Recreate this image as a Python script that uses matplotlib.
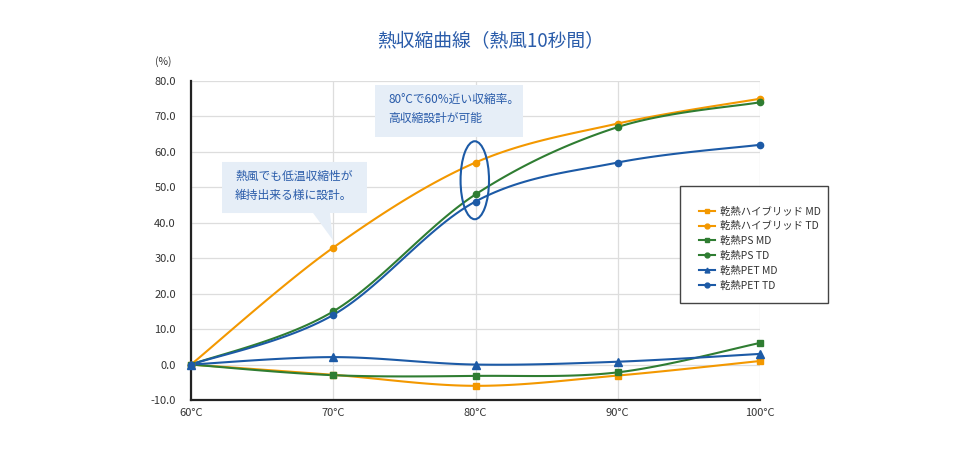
import numpy as np
import matplotlib
matplotlib.use("Agg")
import matplotlib.pyplot as plt
from matplotlib.patches import Polygon, Ellipse, Rectangle
from matplotlib.lines import Line2D

plt.rcParams['font.family'] = ['Noto Sans CJK JP', 'DejaVu Sans']

TITLE = "熱収縮曲線（熱風10秒間）"
temps = [60, 70, 80, 90, 100]
temp_labels = ["60°C", "70°C", "80°C", "90°C", "100°C"]

hybrid_md = [0, -2.9, -6.0, -3.1, 1.0]
hybrid_td = [0, 33.0, 57.0, 68.0, 75.0]
ps_md = [0, -3.0, -3.2, -2.2, 6.1]
ps_td = [0, 15.0, 48.0, 67.0, 74.0]
pet_md = [0, 2.1, 0.0, 0.8, 3.0]
pet_td = [0, 14.0, 46.0, 57.0, 62.0]

ORANGE = "#f39800"
GREEN = "#2f7d32"
BLUE = "#1c5aa6"
TEXT_BLUE = "#2a5caa"
BOX_BG = "#e6eef7"

series = [
    ("乾熱ハイブリッド MD", hybrid_md, ORANGE, "s", 4.5),
    ("乾熱ハイブリッド TD", hybrid_td, ORANGE, "o", 4.5),
    ("乾熱PS MD", ps_md, GREEN, "s", 4.5),
    ("乾熱PS TD", ps_td, GREEN, "o", 4.5),
    ("乾熱PET MD", pet_md, BLUE, "^", 5.5),
    ("乾熱PET TD", pet_td, BLUE, "o", 4.5),
]


def smooth(xs, ys, n=30):
    """ Excel-like smoothed line: cubic Bezier through every point. """
    p = np.column_stack([xs, ys]).astype(float)
    ext = np.vstack([p[0], p, p[-1]])
    out = []
    t = np.linspace(0, 1, n)[:, None]
    for i in range(len(p) - 1):
        p0, p1 = ext[i + 1], ext[i + 2]
        c1 = p0 + (ext[i + 2] - ext[i]) / 6
        c2 = p1 - (ext[i + 3] - ext[i + 1]) / 6
        seg = ((1 - t) ** 3) * p0 + 3 * ((1 - t) ** 2) * t * c1 \
            + 3 * (1 - t) * t ** 2 * c2 + t ** 3 * p1
        out.append(seg if i == 0 else seg[1:])
    s = np.vstack(out)
    return s[:, 0], s[:, 1]


fig = plt.figure(figsize=(9.8, 4.5), dpi=100)
ax = fig.add_axes([191 / 980, 50 / 450, 569 / 980, 319 / 450])
ax.set_xlim(60, 100)
ax.set_ylim(-10, 80)

for name, vals, color, marker, ms in series:
    sx, sy = smooth(temps, vals)
    ax.plot(sx, sy, color=color, lw=1.5, clip_on=False, zorder=3)
    ax.plot(temps, vals, ls="none", marker=marker, ms=ms, color=color,
            clip_on=False, zorder=4)

ax.set_xticks(temps)
ax.set_xticklabels(temp_labels)
ax.set_yticks(np.arange(-10, 81, 10))
ax.set_yticklabels(["%.1f" % v for v in np.arange(-10, 81, 10)])
ax.tick_params(length=0, labelsize=8, colors="#333333")
ax.tick_params(axis="x", pad=6)
ax.tick_params(axis="y", pad=11)
ax.grid(True, color="#dddddd", lw=0.9)
ax.set_axisbelow(True)
for side in ["top", "right"]:
    ax.spines[side].set_visible(False)
ax.spines["left"].set_color("#222222")
ax.spines["left"].set_linewidth(1.6)
ax.spines["bottom"].set_color("#222222")
ax.spines["bottom"].set_linewidth(1.6)

fig.text(155 / 980, 1 - 62 / 450, "(%)", fontsize=7.5, color="#333333",
         va="center")
fig.text(491 / 980, 1 - 41 / 450, TITLE, fontsize=13.5, color=TEXT_BLUE,
         ha="center", va="center")

# Callout 1
call1 = [(62.18, 57.15), (72.37, 57.15), (72.37, 42.75), (69.77, 42.75),
         (69.98, 35.1), (68.58, 42.75), (62.18, 42.75)]
ax.add_patch(Polygon(call1, closed=True, fc=BOX_BG, ec="none", zorder=5))
ax.text(63.1, 53.0, "熱風でも低温収縮性が", fontsize=8.5, color=TEXT_BLUE,
        va="center", zorder=6)
ax.text(63.1, 47.6, "維持出来る様に設計。", fontsize=8.5, color=TEXT_BLUE,
        va="center", zorder=6)

# Callout 2
ax.add_patch(Rectangle((72.94, 64.2), 83.34 - 72.94, 78.87 - 64.2,
                       fc=BOX_BG, ec="none", zorder=5))
ax.text(73.85, 74.8, "80°Cで60%近い収縮率。", fontsize=8.5, color=TEXT_BLUE,
        va="center", zorder=6)
ax.text(73.85, 69.4, "高収縮設計が可能", fontsize=8.5, color=TEXT_BLUE,
        va="center", zorder=6)

ax.add_patch(Ellipse((79.95, 52.0), 2.0, 22.0, fc="none", ec=BLUE, lw=1.5,
                     zorder=6))

# Legend
fig.patches.append(Rectangle((680 / 980, 1 - 303 / 450), 148 / 980,
                             117 / 450, transform=fig.transFigure,
                             fc="white", ec="#444444", lw=1.0, zorder=7))
handles = [Line2D([0], [0], color=c, lw=1.5, marker=m, ms=3.5)
           for _, _, c, m, _ in series]
leg = fig.legend(handles, [s[0] for s in series], loc="upper left",
                 bbox_to_anchor=(694 / 980, 1 - 201 / 450), frameon=False,
                 fontsize=7.5, handlelength=1.5, handletextpad=0.5,
                 labelspacing=0.45, borderpad=0)
leg.set_zorder(8)
for t in leg.get_texts():
    t.set_color("#333333")

plt.savefig("out.png", dpi=100)
